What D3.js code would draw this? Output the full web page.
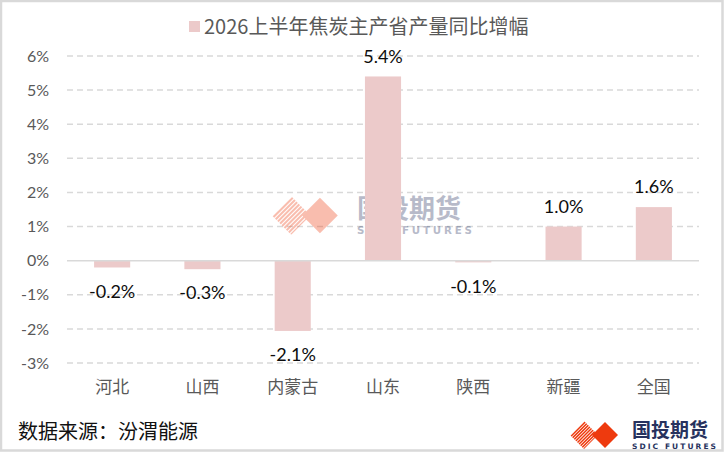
<!DOCTYPE html>
<html>
<head>
<meta charset="utf-8">
<script src="https://cdn.jsdelivr.net/npm/d3@7"></script>
<style>
  html, body { margin: 0; padding: 0; background: #fff; }
  svg { display: block; }
</style>
</head>
<body>
<div id="chart"></div>
<script>
// chart data
const provinces = ["河北", "山西", "内蒙古", "山东", "陕西", "新疆", "全国"];
const growth = [-0.2, -0.25, -2.06, 5.4, -0.05, 1.0, 1.57];
const yTicks = [-3, -2, -1, 0, 1, 2, 3, 4, 5, 6];
const title = "2026上半年焦炭主产省产量同比增幅";
const source = "数据来源：汾渭能源";

const width = 724, height = 452;
const barColor = "#eccaca";
const grey = "#595959";
const latin = "Lato, 'Liberation Sans', sans-serif";
const cjk = "'Noto Sans CJK SC', sans-serif";

const svg = d3.select("#chart").append("svg")
    .attr("width", width)
    .attr("height", height);

// outer frame
svg.append("rect")
    .attr("x", 1).attr("y", 1)
    .attr("width", width - 2.5).attr("height", height - 2.5)
    .attr("fill", "#fff")
    .attr("stroke", "#d9d9d9")
    .attr("stroke-width", 2.5);

const x = d3.scaleBand()
    .domain(provinces)
    .range([67, 699])
    .paddingInner(0.6)
    .paddingOuter(0.3);

const y = d3.scaleLinear()
    .domain([-3, 6])
    .range([363, 56]);

// gridlines
svg.append("g")
    .selectAll("line")
    .data(yTicks.filter(d => d !== 0))
    .join("line")
    .attr("x1", 67).attr("x2", 699)
    .attr("y1", d => y(d)).attr("y2", d => y(d))
    .attr("stroke", "#d9d9d9")
    .attr("stroke-width", 1.5)
    .attr("stroke-dasharray", "6,4");

// watermark logo
drawLogo(svg.append("g").attr("transform", "translate(272,195) scale(1.37)").attr("opacity", 0.33), "wm");

// bars
svg.append("g")
    .selectAll("rect")
    .data(growth)
    .join("rect")
    .attr("x", (d, i) => x(provinces[i]))
    .attr("width", x.bandwidth())
    .attr("y", d => y(Math.max(0, d)))
    .attr("height", d => Math.abs(y(d) - y(0)))
    .attr("fill", barColor);

// zero line
svg.append("line")
    .attr("x1", 67).attr("x2", 699)
    .attr("y1", y(0)).attr("y2", y(0))
    .attr("stroke", "#d9d9d9")
    .attr("stroke-width", 1.5);

// y axis labels
const yAxis = svg.append("g")
    .attr("transform", "translate(49,0)")
    .call(d3.axisLeft(y).tickValues(yTicks).tickSize(0).tickPadding(0).tickFormat(d => d + "%"));
yAxis.select(".domain").remove();
yAxis.selectAll("text")
    .attr("fill", grey)
    .style("font-family", latin)
    .style("font-size", "16px");

// x axis labels
const xAxis = svg.append("g")
    .attr("transform", "translate(0,378)")
    .call(d3.axisBottom(x).tickSize(0).tickPadding(0));
xAxis.select(".domain").remove();
xAxis.selectAll("text")
    .attr("fill", grey)
    .attr("dy", "0.9em")
    .style("font-family", cjk)
    .style("font-size", "17px");

// data labels (plain hyphen, like the source)
const fmt = d3.formatLocale({decimal: ".", thousands: ",", grouping: [3], currency: ["", ""], minus: "-"}).format(".1f");
svg.append("g")
    .selectAll("text")
    .data(growth)
    .join("text")
    .attr("x", (d, i) => x(provinces[i]) + x.bandwidth() / 2)
    .attr("y", d => d >= 0 ? y(d) - 20 : y(d) + 24)
    .attr("dy", "0.35em")
    .attr("text-anchor", "middle")
    .attr("fill", "#0d0d0d")
    .style("font-family", latin)
    .style("font-size", "18px")
    .text(d => fmt(d) + "%");

// title with legend key
svg.append("rect")
    .attr("x", 189).attr("y", 21)
    .attr("width", 11).attr("height", 11)
    .attr("fill", barColor);
svg.append("text")
    .attr("x", 204).attr("y", 27)
    .attr("dy", "0.36em")
    .attr("fill", grey)
    .style("font-family", cjk)
    .style("font-size", "20px")
    .text(title);

// source note
svg.append("text")
    .attr("x", 18).attr("y", 432)
    .attr("dy", "0.36em")
    .attr("fill", "#111")
    .style("font-family", cjk)
    .style("font-size", "20px")
    .text(source);

// corner logo
drawLogo(svg.append("g").attr("transform", "translate(570,420)"), "corner");

function drawLogo(g, id) {
    const red = "#ee3a0e";
    g.append("defs").append("clipPath").attr("id", "clip-" + id)
        .append("path")
        .attr("d", "M0,15 L14,1 L28,15 L14,29 Z");
    const stripes = g.append("g").attr("clip-path", `url(#clip-${id})`);
    d3.range(-4, 14).forEach(k => {
        stripes.append("line")
            .attr("x1", k * 3.2).attr("y1", 30)
            .attr("x2", k * 3.2 + 30).attr("y2", 0)
            .attr("stroke", red)
            .attr("stroke-width", 1.5);
    });
    g.append("path")
        .attr("d", "M22,15 L35,2 L48,15 L35,28 Z")
        .attr("fill", red);
    g.append("text")
        .attr("x", 62).attr("y", 17)
        .attr("fill", "#27325e")
        .style("font-family", cjk)
        .style("font-size", "19px")
        .style("font-weight", "bold")
        .text("国投期货");
    g.append("text")
        .attr("x", 62).attr("y", 28.5)
        .attr("textLength", 84)
        .attr("fill", "#27325e")
        .style("font-family", "'DejaVu Sans', sans-serif")
        .style("font-size", "7.5px")
        .style("font-weight", "bold")
        .text("SDIC FUTURES");
}
</script>
</body>
</html>
